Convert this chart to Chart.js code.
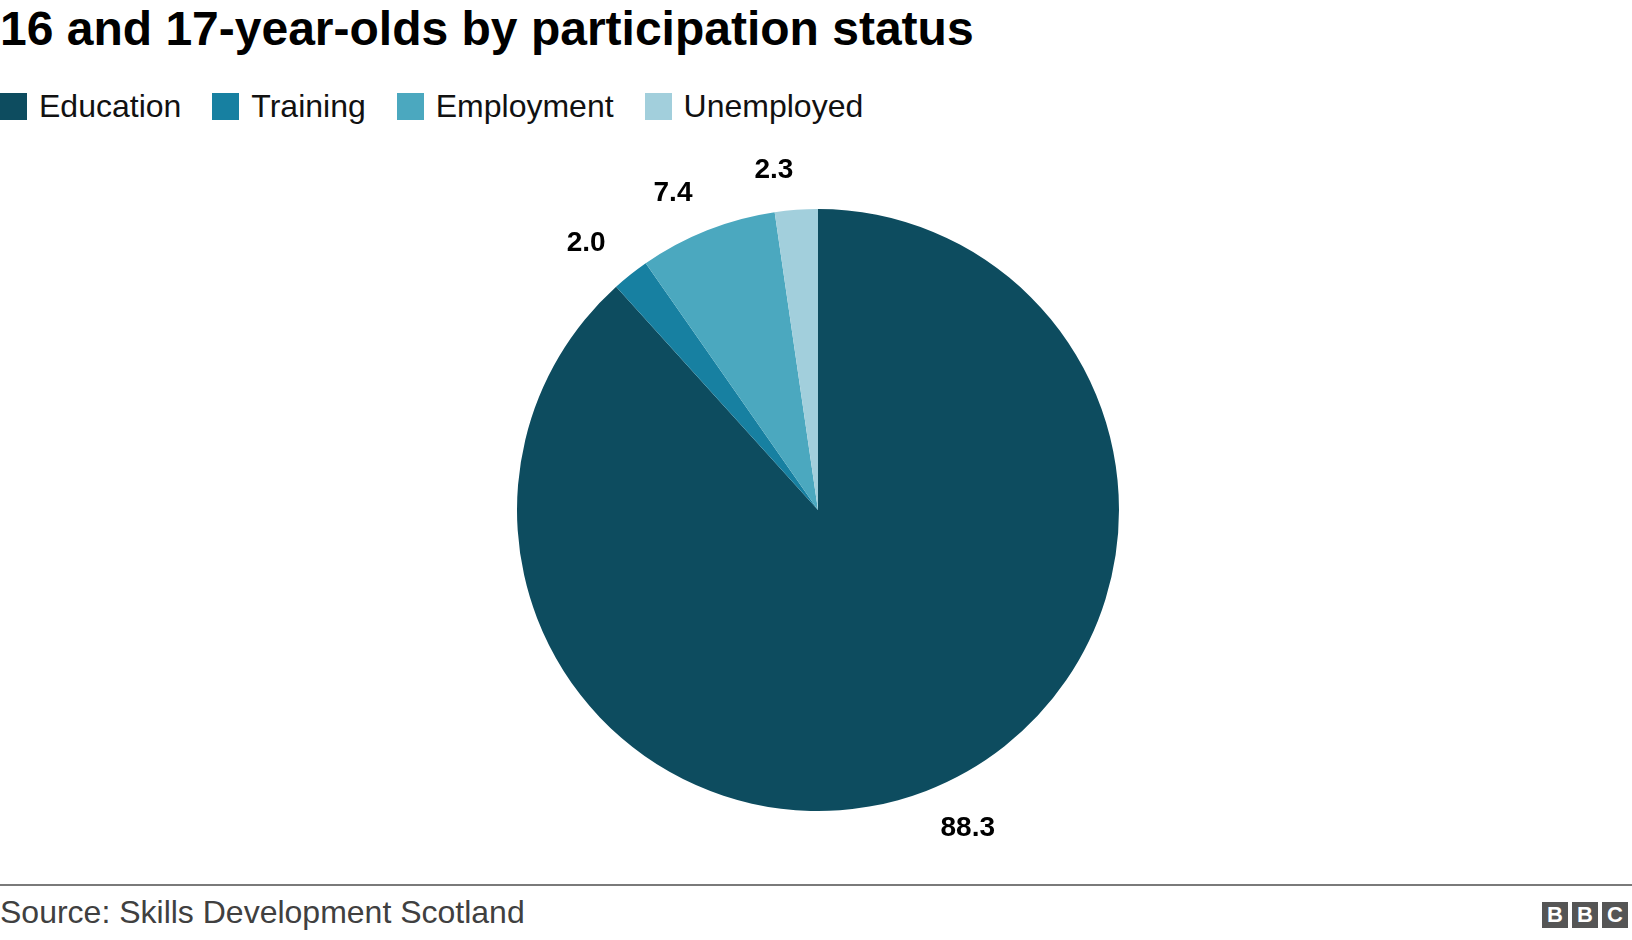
<!DOCTYPE html>
<html>
<head>
<meta charset="utf-8">
<script src="https://cdn.jsdelivr.net/npm/chart.js@4.4.0/dist/chart.umd.min.js"></script>
<style>
  html, body { margin: 0; padding: 0; background: #fff; width: 1632px; height: 940px; overflow: hidden; font-family: "Liberation Sans", Arial, sans-serif; }
  #title { position: absolute; left: 0; top: 0; font-size: 48px; font-weight: bold; color: #000; line-height: 58px; white-space: nowrap; }
  #legend { position: absolute; left: 0; top: 92px; height: 28px; display: flex; align-items: center; white-space: nowrap; }
  .li { display: flex; align-items: center; margin-right: 31px; font-size: 32px; color: #111; }
  .sw { width: 27px; height: 27px; margin-right: 12px; }
  #wrap { position: absolute; left: 418px; top: 140px; width: 800px; height: 740px; }
  #rule { position: absolute; left: 0; top: 884px; width: 1632px; height: 2px; background: #7a7a7a; }
  #source { position: absolute; left: 0; top: 893px; font-size: 32px; color: #404040; line-height: 38px; white-space: nowrap; }
  #bbc { position: absolute; left: 1542px; top: 902px; display: flex; }
  #bbc span { display: block; width: 26px; height: 26px; background: #555; color: #fff; font-weight: bold; font-size: 22px; line-height: 26px; text-align: center; margin-right: 4px; }
</style>
</head>
<body>
<div id="title">16 and 17-year-olds by participation status</div>
<div id="legend"></div>
<div id="wrap"><canvas id="c"></canvas></div>
<div id="rule"></div>
<div id="source">Source: Skills Development Scotland</div>
<div id="bbc"><span>B</span><span>B</span><span>C</span></div>
<script>
const categories = ["Education", "Training", "Employment", "Unemployed"];
const values = [88.3, 2.0, 7.4, 2.3];
const valueLabels = ["88.3", "2.0", "7.4", "2.3"];
const colors = ["#0d4c5f", "#1780a1", "#4ba8bf", "#a2cfdc"];

// HTML legend built from arrays
const lg = document.getElementById('legend');
categories.forEach((c, i) => {
  const d = document.createElement('div'); d.className = 'li';
  const s = document.createElement('div'); s.className = 'sw'; s.style.background = colors[i];
  const t = document.createElement('span'); t.textContent = c;
  d.appendChild(s); d.appendChild(t); lg.appendChild(d);
});

const outLabels = {
  id: 'outLabels',
  afterDatasetsDraw(chart) {
    const ctx = chart.ctx;
    const meta = chart.getDatasetMeta(0);
    ctx.save();
    ctx.font = 'bold 28px "Liberation Sans", Arial, sans-serif';
    ctx.fillStyle = '#000';
    ctx.textBaseline = 'middle';
    meta.data.forEach((arc, i) => {
      const p = arc.getProps(['x', 'y', 'startAngle', 'endAngle', 'outerRadius'], true);
      const mid = (p.startAngle + p.endAngle) / 2;
      const r = p.outerRadius + 40;
      const x = p.x + Math.cos(mid) * r;
      const y = p.y + Math.sin(mid) * r;
      ctx.textAlign = Math.cos(mid) >= 0 ? 'left' : 'right';
      ctx.fillText(valueLabels[i], x, y);
    });
    ctx.restore();
  }
};

new Chart(document.getElementById('c'), {
  type: 'pie',
  data: {
    labels: categories,
    datasets: [{ data: values, backgroundColor: colors, borderWidth: 0 }]
  },
  options: {
    responsive: true,
    maintainAspectRatio: false,
    animation: false,
    layout: { padding: { top: 69, bottom: 69, left: 0, right: 0 } },
    plugins: { legend: { display: false }, tooltip: { enabled: false } }
  },
  plugins: [outLabels]
});
</script>
</body>
</html>
